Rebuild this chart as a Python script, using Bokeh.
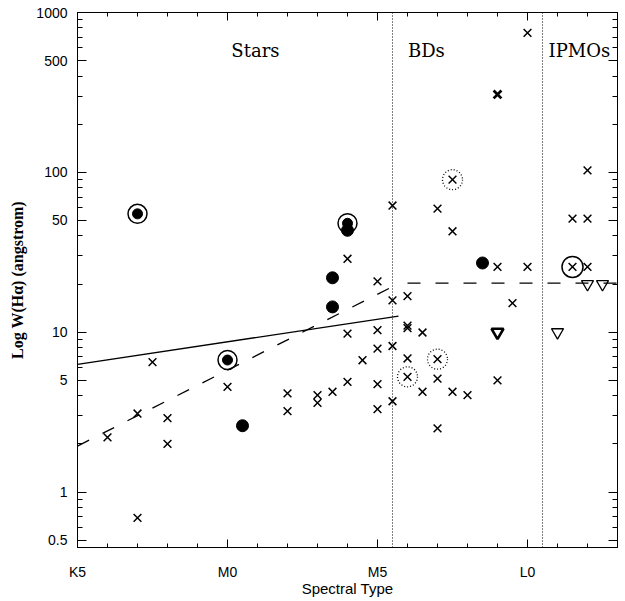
from bokeh.plotting import figure
from bokeh.models import ColumnDataSource, FixedTicker, LogAxis, LinearAxis, Span
from bokeh.core.properties import value
from bokeh.embed import file_html
from bokeh.resources import INLINE

# Spectral type as number of subclasses from K5: K5=0, M0=5, M5=10, L0=15
tick_pos = [0, 5, 10, 15]
tick_labels = ["K5", "M0", "M5", "L0"]
minor_x = list(range(0, 19))
y_ticks = [0.5, 1, 5, 10, 50, 100, 500, 1000]
y_tick_labels = ["0.5", "1", "5", "10", "50", "100", "500", "1000"]
y_minor = [0.6, 0.7, 0.8, 0.9, 2, 3, 4, 6, 7, 8, 9, 20, 30, 40, 60, 70, 80, 90,
           200, 300, 400, 600, 700, 800, 900]

# crosses
cross_sp = [1, 2, 2, 2.5, 3, 3, 5,
            7, 7, 8, 8, 8.5, 9, 9, 9, 9.5, 10, 10, 10, 10, 10,
            10.5, 10.5, 10.5, 10.5,
            11, 11, 11, 11, 11, 11.5, 11.5,
            12, 12, 12, 12, 12.5, 12.5, 12.5, 13,
            14, 14, 14.5, 15, 15,
            16.5, 16.5, 17, 17, 17]
cross_w = [2.2, 3.1, 0.69, 6.5, 2.9, 2.0, 4.55,
           4.14, 3.21, 4.04, 3.61, 4.24, 28.8, 9.8, 4.89, 6.68, 20.8, 10.3, 7.9, 4.73, 3.3,
           62, 15.8, 8.2, 3.7,
           16.8, 11.0, 10.6, 6.85, 5.26, 9.96, 4.24,
           59.3, 6.78, 5.13, 2.5, 90, 42.8, 4.24, 4.04,
           25.6, 5.0, 15.2, 746, 25.6,
           25.6, 51.3, 51.3, 25.6, 103]
bold_cross_sp = [14]
bold_cross_w = [307]

# filled dots
dot_sp = [5.5, 8.5, 8.5, 9, 13.5]
dot_w = [2.6, 21.9, 14.4, 43.4, 27.1]
# ringed filled dots
ringdot_sp = [2, 5, 9]
ringdot_w = [55, 6.7, 48]
# solid ring around cross
ringcross_sp = [16.5]
ringcross_w = [25.6]
# dotted rings around crosses
dotring_sp = [12.5, 12, 11]
dotring_w = [90, 6.78, 5.26]
# upper limits (open inverted triangles)
tri_sp = [16, 17, 17.5]
tri_w = [10, 20, 20]
bold_tri_sp = [14]
bold_tri_w = [10]

# saturation criteria lines
solid_fit_sp = [0, 10.7]
solid_fit_w = [6.3, 12.6]
dash_fit_sp = [0, 10.6]
dash_fit_w = [1.94, 19.7]
dash_flat_sp = [11, 18]
dash_flat_w = [20.3, 20.3]

boundary_sp = [10.5, 15.5]
region_names = ["Stars", "BDs", "IPMOs"]
region_sp = [5.93, 11.63, 16.73]
region_w = [580, 580, 580]

p = figure(x_range=(0, 18), y_range=(0.45, 1000), y_axis_type="log",
           width=620, height=599, output_backend="svg", toolbar_location=None,
           min_border_left=77, min_border_top=12, min_border_right=3, min_border_bottom=10)
p.grid.visible = False
p.outline_line_color = "black"
p.background_fill_color = "white"
p.border_fill_color = "white"

xt = FixedTicker(ticks=tick_pos, minor_ticks=minor_x)
yt = FixedTicker(ticks=y_ticks, minor_ticks=y_minor)

xa = p.xaxis[0]
xa.ticker = xt
xa.major_label_overrides = {t: l for t, l in zip(tick_pos, tick_labels)}
ya = p.yaxis[0]
ya.ticker = yt
ya.major_label_overrides = {t: l for t, l in zip(y_ticks, y_tick_labels)}

for ax, maj, mnr in ((xa, 8, 4), (ya, 9, 5)):
    ax.major_tick_in = maj
    ax.major_tick_out = 0
    ax.minor_tick_in = mnr
    ax.minor_tick_out = 0
    ax.axis_line_color = "black"
    ax.major_tick_line_color = "black"
    ax.minor_tick_line_color = "black"
    ax.major_label_text_font = "Liberation Sans"
    ax.major_label_text_font_size = "14px"
    ax.major_label_text_color = "black"
    ax.axis_label_text_color = "black"

xa.major_label_standoff = 16
xa.axis_label = "Spectral Type"
xa.axis_label_text_font = "Liberation Sans"
xa.axis_label_text_font_size = "15px"
xa.axis_label_text_font_style = "normal"
xa.axis_label_standoff = -3

ya.major_label_standoff = 10
ya.axis_label = "Log W(H\u03b1) (angstrom)"
ya.axis_label_text_font = "Liberation Serif"
ya.axis_label_text_font_size = "16px"
ya.axis_label_text_font_style = "bold"
ya.axis_label_standoff = 7

top = LinearAxis(ticker=xt, major_label_overrides={t: "" for t in tick_pos},
                 major_label_standoff=0,
                 major_tick_in=8, major_tick_out=0, minor_tick_in=4, minor_tick_out=0)
right = LogAxis(ticker=yt, major_label_overrides={t: "" for t in y_ticks},
                major_label_standoff=0,
                major_tick_in=9, major_tick_out=0, minor_tick_in=5, minor_tick_out=0)
p.add_layout(top, "above")
p.add_layout(right, "right")

for xb in boundary_sp:
    p.add_layout(Span(location=xb, dimension="height", line_color="black",
                      line_dash="1 2", line_width=1))

p.line(solid_fit_sp, solid_fit_w, line_color="black", line_width=1.3)
p.line(dash_fit_sp, dash_fit_w, line_color="black", line_width=1.3, line_dash="13 15")
p.line(dash_flat_sp, dash_flat_w, line_color="black", line_width=1.3, line_dash="13 15")

p.scatter(cross_sp, cross_w, marker="x", size=11, line_color="black", line_width=1.5)
p.scatter(bold_cross_sp, bold_cross_w, marker="x", size=11, line_color="black", line_width=2.8)
p.scatter(dot_sp, dot_w, marker="circle", size=12, fill_color="black", line_color="black")
p.scatter(ringdot_sp, ringdot_w, marker="circle", size=10, fill_color="black", line_color="black")
p.scatter(ringdot_sp, ringdot_w, marker="circle", size=19, fill_color=None,
          line_color="black", line_width=1.5)
p.scatter(ringcross_sp, ringcross_w, marker="circle", size=21, fill_color=None,
          line_color="black", line_width=1.5)
p.scatter(dotring_sp, dotring_w, marker="circle", size=20, fill_color=None,
          line_color="black", line_width=1.3, line_dash="1 2")
p.scatter(tri_sp, tri_w, marker="inverted_triangle", size=12, fill_color=None,
          line_color="black", line_width=1.3)
p.scatter(bold_tri_sp, bold_tri_w, marker="inverted_triangle", size=12, fill_color=None,
          line_color="black", line_width=2.6)

src = ColumnDataSource(dict(x=region_sp, y=region_w, t=region_names))
p.text(x="x", y="y", text="t", source=src, text_font=value("DejaVu Serif"),
       text_font_size="18px", text_align="center", text_baseline="middle",
       text_color="black")

open("out.html", "w").write(file_html(p, INLINE))
